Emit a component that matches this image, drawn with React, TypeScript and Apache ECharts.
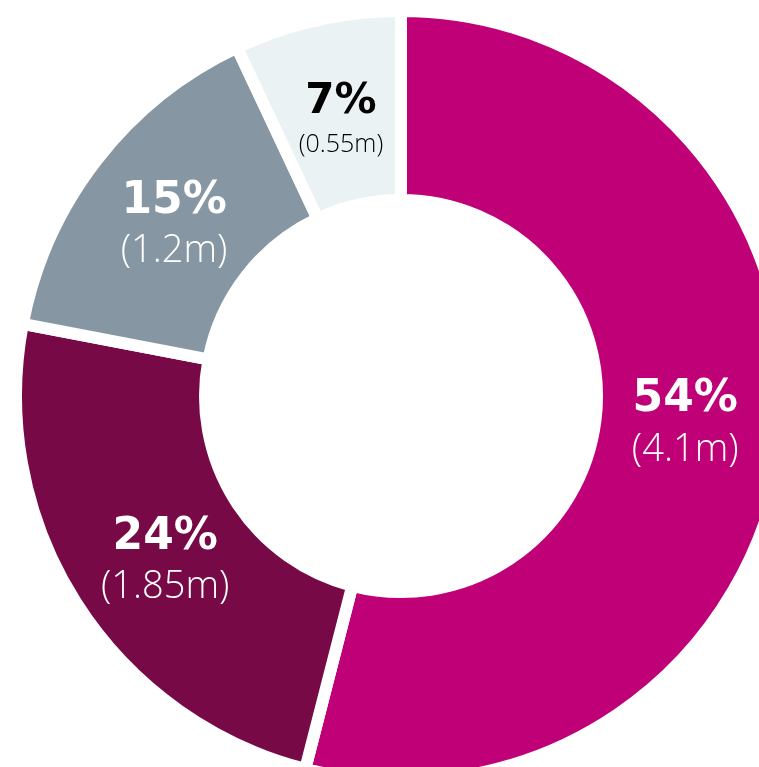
import React, { useEffect, useRef } from "react";
import * as echarts from "echarts";

const categories = ["A", "B", "C", "D"];
const percents = [54, 24, 15, 7];
const amounts = ["4.1m", "1.85m", "1.2m", "0.55m"];
const colors = ["#BF0077", "#770A46", "#8697A3", "#EAF2F4"];
const textColors = ["#ffffff", "#ffffff", "#ffffff", "#000000"];
const labelOffsets = [[-7, -14], [12, 3], [5, 4], [4, 8]];

export default function App() {
  const ref = useRef<HTMLDivElement>(null);
  useEffect(() => {
    if (!ref.current) return;
    const chart = echarts.init(ref.current, null, { renderer: "svg" });
    const data = categories.map((c, i) => {
      const small = i === 3;
      return {
        name: c,
        value: percents[i],
        itemStyle: { color: colors[i] },
        label: {
          offset: labelOffsets[i],
          formatter: `{p|${percents[i]}%}\n{v|(${amounts[i]})}`,
          rich: {
            p: {
              fontFamily: "DejaVu Sans",
              fontWeight: "bold",
              fontSize: small ? 42 : 44,
              color: textColors[i],
              lineHeight: small ? 48 : 54,
            },
            v: {
              fontFamily: "Open Sans",
              fontWeight: 300,
              fontSize: small ? 25 : 38,
              color: textColors[i],
              lineHeight: small ? 38 : 46,
            },
          },
        },
      };
    });
    chart.setOption({
      animation: false,
      series: [
        {
          type: "pie",
          center: [401, 396],
          radius: [196, 385],
          startAngle: 90,
          clockwise: true,
          avoidLabelOverlap: false,
          itemStyle: { borderColor: "#ffffff", borderWidth: 12 },
          label: { show: true, position: "inside", align: "center" },
          labelLine: { show: false },
          emphasis: { disabled: true },
          data,
        },
      ],
    });
    return () => chart.dispose();
  }, []);
  return (
    <div
      ref={ref}
      style={{ position: "fixed", left: 0, top: 0, width: 759, height: 767 }}
    />
  );
}
